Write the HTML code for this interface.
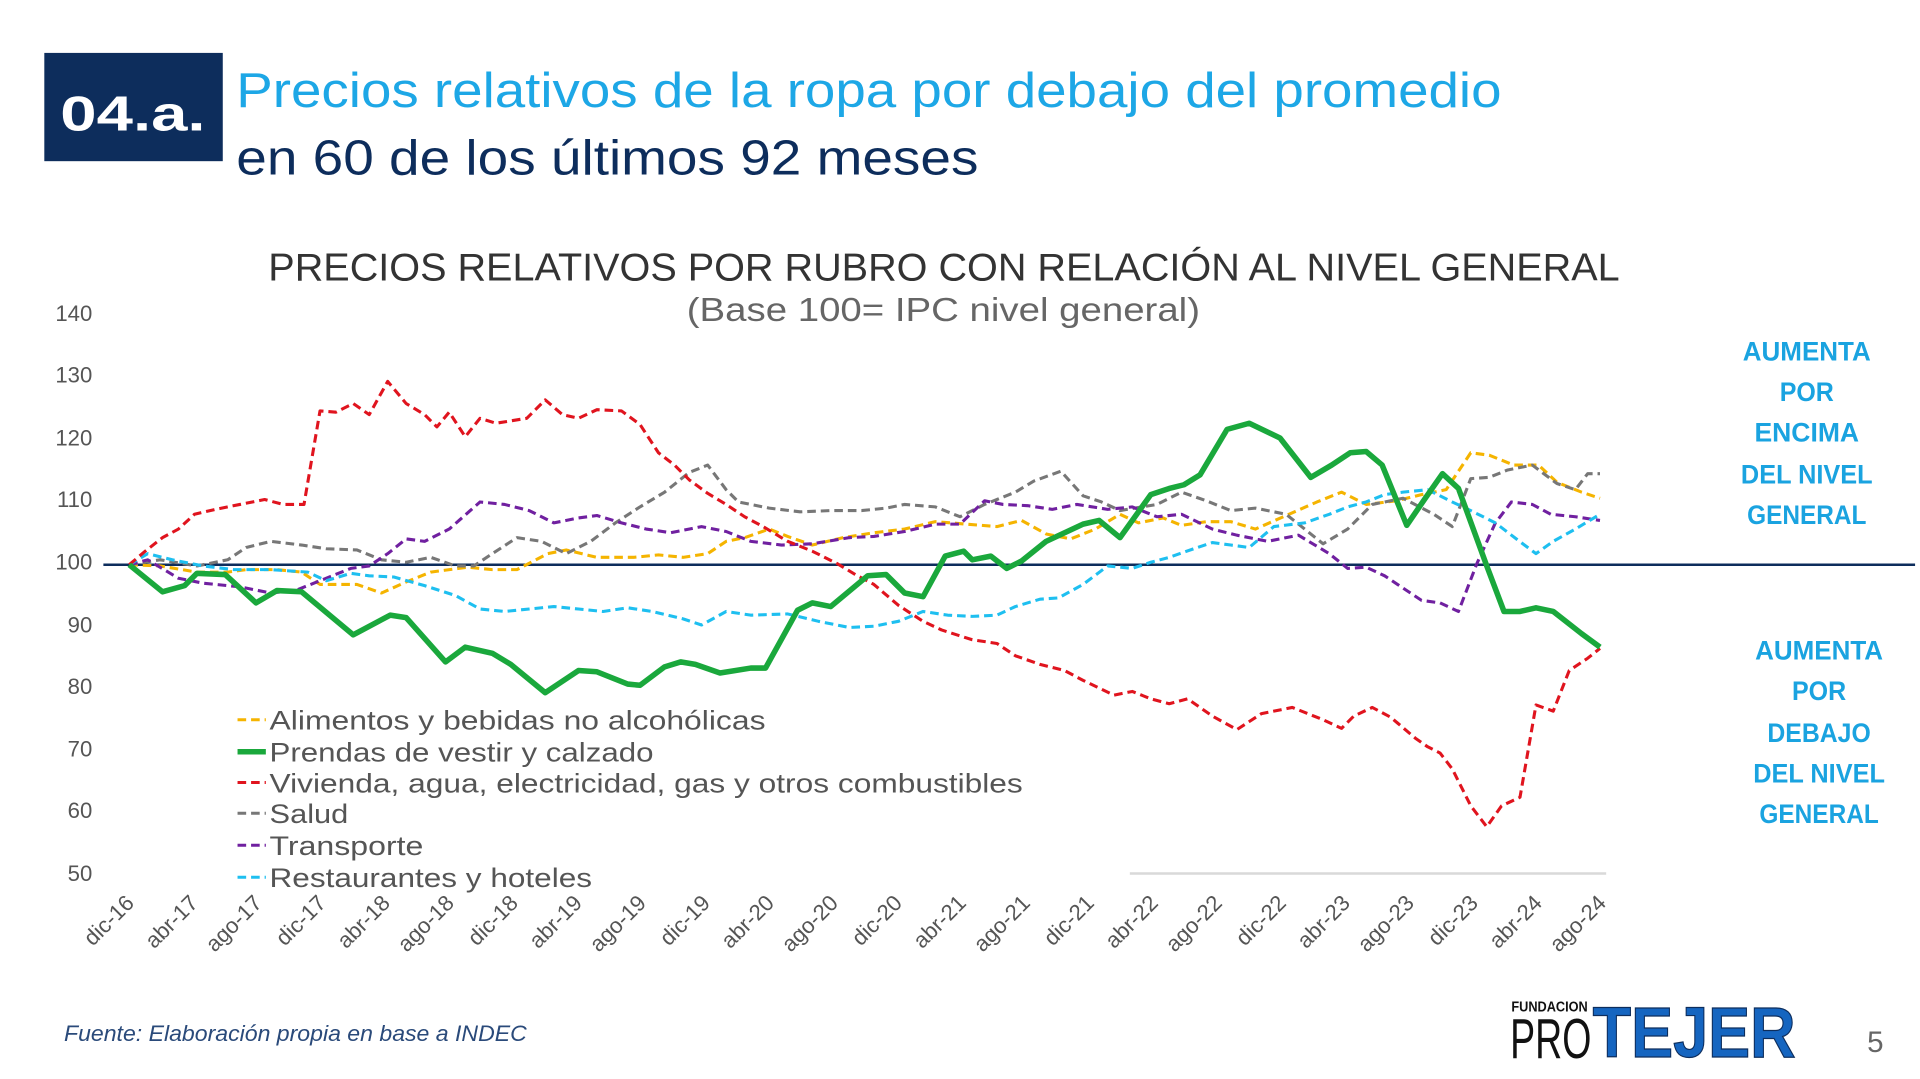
<!DOCTYPE html>
<html><head><meta charset="utf-8"><style>
html,body{margin:0;padding:0;background:#fff;width:1920px;height:1079px;overflow:hidden}
svg{display:block}
text{font-family:"Liberation Sans",sans-serif}
</style></head><body>
<svg width="1920" height="1079" viewBox="0 0 1560 877" preserveAspectRatio="none">
<rect x="36" y="43" width="145" height="88" fill="#0d2d5c"/>
<text x="49" y="106" font-size="40" font-weight="bold" fill="#fff" textLength="118" lengthAdjust="spacingAndGlyphs">04.a.</text>
<text x="192" y="87" font-size="40" fill="#1da7e6" textLength="1028" lengthAdjust="spacingAndGlyphs">Precios relativos de la ropa por debajo del promedio</text>
<text x="192" y="142" font-size="40" fill="#0d2d5c" textLength="603" lengthAdjust="spacingAndGlyphs">en 60 de los últimos 92 meses</text>
<text x="218" y="228" font-size="32" fill="#333" textLength="1098" lengthAdjust="spacingAndGlyphs">PRECIOS RELATIVOS POR RUBRO CON RELACIÓN AL NIVEL GENERAL</text>
<text x="558" y="261" font-size="27" fill="#666" textLength="417" lengthAdjust="spacingAndGlyphs">(Base 100= IPC nivel general)</text>
<g font-size="18" fill="#555" text-anchor="end">
<text x="75" y="261">140</text><text x="75" y="311">130</text><text x="75" y="362">120</text><text x="75" y="412">110</text><text x="75" y="463">100</text><text x="75" y="514">90</text><text x="75" y="564">80</text><text x="75" y="615">70</text><text x="75" y="665">60</text><text x="75" y="716">50</text>
</g>
<line x1="918" y1="710" x2="1305" y2="710" stroke="#d9d9d9" stroke-width="2"/>
<line x1="84" y1="459" x2="1556" y2="459" stroke="#0d2d5c" stroke-width="2"/>
<g font-size="18" fill="#555" text-anchor="end">
<text transform="translate(110,735) rotate(-45)">dic-16</text>
<text transform="translate(162,735) rotate(-45)">abr-17</text>
<text transform="translate(214,735) rotate(-45)">ago-17</text>
<text transform="translate(266,735) rotate(-45)">dic-17</text>
<text transform="translate(318,735) rotate(-45)">abr-18</text>
<text transform="translate(370,735) rotate(-45)">ago-18</text>
<text transform="translate(422,735) rotate(-45)">dic-18</text>
<text transform="translate(474,735) rotate(-45)">abr-19</text>
<text transform="translate(526,735) rotate(-45)">ago-19</text>
<text transform="translate(578,735) rotate(-45)">dic-19</text>
<text transform="translate(630,735) rotate(-45)">abr-20</text>
<text transform="translate(682,735) rotate(-45)">ago-20</text>
<text transform="translate(734,735) rotate(-45)">dic-20</text>
<text transform="translate(786,735) rotate(-45)">abr-21</text>
<text transform="translate(838,735) rotate(-45)">ago-21</text>
<text transform="translate(890,735) rotate(-45)">dic-21</text>
<text transform="translate(942,735) rotate(-45)">abr-22</text>
<text transform="translate(994,735) rotate(-45)">ago-22</text>
<text transform="translate(1046,735) rotate(-45)">dic-22</text>
<text transform="translate(1098,735) rotate(-45)">abr-23</text>
<text transform="translate(1150,735) rotate(-45)">ago-23</text>
<text transform="translate(1202,735) rotate(-45)">dic-23</text>
<text transform="translate(1254,735) rotate(-45)">abr-24</text>
<text transform="translate(1306,735) rotate(-45)">ago-24</text>
</g>
<g fill="none" stroke-width="2.5" stroke-dasharray="7 4" stroke-linejoin="round">
<polyline stroke="#f5b400" points="105,459 130,460 160,465 185,465 200,463 225,463 245,465 260,475 290,475 310,482 330,473 350,465 380,461 400,463 420,463 445,450 460,447 485,453 515,453 535,451 555,453 575,450 590,440 605,437 625,430 640,436 660,443 685,437 710,433 735,430 760,424 785,426 810,428 830,423 850,434 870,438 890,430 910,418 925,425 945,421 960,427 980,424 1000,424 1020,430 1045,419 1070,408 1090,400 1110,410 1135,407 1155,402 1175,398 1195,368 1210,370 1230,378 1250,378 1265,392 1285,400 1300,405"/>
<polyline stroke="#777" points="105,459 130,455 160,460 185,455 200,445 220,440 245,443 265,446 290,447 310,455 330,457 350,453 370,460 385,460 400,450 420,437 440,440 460,450 480,440 500,425 520,412 540,400 560,384 575,378 590,398 600,408 625,413 650,416 675,415 700,415 720,413 735,410 760,412 780,420 800,410 825,400 840,391 862,383 880,403 895,408 910,415 940,410 960,400 980,407 1000,415 1020,413 1045,418 1075,442 1095,430 1115,410 1140,405 1165,418 1180,428 1195,389 1210,388 1225,382 1245,378 1265,393 1280,398 1290,385 1300,385"/>
<polyline stroke="#7020a0" points="105,459 120,455 145,470 165,474 195,477 220,482 240,480 260,472 285,462 300,460 315,450 330,438 345,440 365,430 390,408 410,410 430,415 450,425 470,421 485,419 505,425 525,430 545,433 570,428 590,432 610,440 635,443 660,442 690,437 710,436 735,432 760,426 780,426 800,407 815,410 835,411 855,414 875,410 900,414 920,412 940,420 960,418 985,430 1005,435 1030,440 1055,435 1080,450 1095,462 1110,461 1125,468 1140,478 1155,488 1170,490 1185,497 1200,458 1215,425 1228,408 1245,410 1260,418 1280,420 1300,423"/>
<polyline stroke="#1ebff0" points="105,459 120,450 140,455 165,460 190,463 220,463 250,465 265,472 285,466 300,468 320,469 345,476 370,484 390,495 410,497 430,495 450,493 470,495 490,497 510,494 530,497 555,503 570,508 590,497 610,500 640,499 665,505 690,510 710,509 730,505 750,497 770,500 790,501 810,500 825,493 845,487 860,486 880,475 900,460 920,462 935,457 950,453 970,446 985,441 1000,443 1015,445 1035,428 1060,425 1080,418 1095,412 1110,408 1125,402 1140,400 1160,398 1180,408 1195,415 1215,425 1232,438 1248,450 1262,440 1280,430 1300,418"/>
<polyline stroke="#e0141e" points="105,459 118,448 132,437 145,430 158,418 175,414 195,410 215,406 230,410 247,410 260,334 273,335 287,328 300,337 315,310 330,328 345,337 355,347 365,335 378,355 390,340 403,344 428,340 443,325 457,337 470,340 485,333 505,334 520,345 535,368 548,378 560,390 575,401 590,410 605,420 620,428 640,440 660,448 680,458 695,467 710,475 730,492 750,505 765,512 790,520 810,523 825,533 845,540 865,545 880,553 905,565 920,562 935,568 950,572 965,568 985,582 1005,593 1025,580 1035,578 1050,575 1075,585 1090,592 1100,582 1115,575 1130,583 1150,600 1160,607 1170,612 1180,625 1195,655 1208,672 1220,655 1235,648 1248,573 1262,578 1275,545 1290,535 1300,527"/>
</g>
<polyline fill="none" stroke="#1aa83c" stroke-width="4.5" stroke-linejoin="round" points="105,459 132,481 150,476 160,466 183,467 208,490 225,480 245,481 287,516 317,500 330,502 362,538 378,526 400,531 415,540 443,563 470,545 485,546 510,556 520,557 540,542 553,538 565,540 585,547 610,543 622,543 648,496 660,490 675,493 705,468 720,467 735,482 750,485 768,452 783,448 790,455 805,452 818,462 830,456 850,440 880,426 893,423 910,437 935,402 950,397 962,394 975,386 997,349 1015,344 1040,356 1065,388 1082,378 1097,368 1110,367 1123,378 1143,427 1158,405 1172,385 1185,397 1208,460 1222,497 1235,497 1248,494 1262,497 1285,515 1300,526"/>
<g font-size="22" fill="#555">
<line x1="193" y1="585" x2="216" y2="585" stroke="#f5b400" stroke-width="2.5" stroke-dasharray="7 4"/>
<text x="219" y="593" textLength="403" lengthAdjust="spacingAndGlyphs">Alimentos y bebidas no alcohólicas</text>
<line x1="193" y1="611" x2="216" y2="611" stroke="#1aa83c" stroke-width="4.5"/>
<text x="219" y="619" textLength="312" lengthAdjust="spacingAndGlyphs">Prendas de vestir y calzado</text>
<line x1="193" y1="636" x2="216" y2="636" stroke="#e0141e" stroke-width="2.5" stroke-dasharray="7 4"/>
<text x="219" y="644" textLength="612" lengthAdjust="spacingAndGlyphs">Vivienda, agua, electricidad, gas y otros combustibles</text>
<line x1="193" y1="661" x2="216" y2="661" stroke="#777" stroke-width="2.5" stroke-dasharray="7 4"/>
<text x="219" y="669" textLength="64" lengthAdjust="spacingAndGlyphs">Salud</text>
<line x1="193" y1="687" x2="216" y2="687" stroke="#7020a0" stroke-width="2.5" stroke-dasharray="7 4"/>
<text x="219" y="695" textLength="125" lengthAdjust="spacingAndGlyphs">Transporte</text>
<line x1="193" y1="713" x2="216" y2="713" stroke="#1ebff0" stroke-width="2.5" stroke-dasharray="7 4"/>
<text x="219" y="721" textLength="262" lengthAdjust="spacingAndGlyphs">Restaurantes y hoteles</text>
</g>
<g font-size="22" font-weight="bold" fill="#1aa3e0" text-anchor="middle">
<text x="1468" y="293" textLength="104" lengthAdjust="spacingAndGlyphs">AUMENTA</text>
<text x="1468" y="326" textLength="44" lengthAdjust="spacingAndGlyphs">POR</text>
<text x="1468" y="359" textLength="85" lengthAdjust="spacingAndGlyphs">ENCIMA</text>
<text x="1468" y="393" textLength="107" lengthAdjust="spacingAndGlyphs">DEL NIVEL</text>
<text x="1468" y="426" textLength="97" lengthAdjust="spacingAndGlyphs">GENERAL</text>
<text x="1478" y="536" textLength="104" lengthAdjust="spacingAndGlyphs">AUMENTA</text>
<text x="1478" y="569" textLength="44" lengthAdjust="spacingAndGlyphs">POR</text>
<text x="1478" y="603" textLength="84" lengthAdjust="spacingAndGlyphs">DEBAJO</text>
<text x="1478" y="636" textLength="107" lengthAdjust="spacingAndGlyphs">DEL NIVEL</text>
<text x="1478" y="669" textLength="97" lengthAdjust="spacingAndGlyphs">GENERAL</text>
</g>
<text x="52" y="846" font-size="18" font-style="italic" fill="#2a4a7a" textLength="376" lengthAdjust="spacingAndGlyphs">Fuente: Elaboración propia en base a INDEC</text>
<text x="1228" y="822" font-size="12" font-weight="bold" fill="#111" textLength="62" lengthAdjust="spacingAndGlyphs">FUNDACION</text>
<text x="1227" y="860" font-size="46" fill="#111" textLength="66" lengthAdjust="spacingAndGlyphs">PRO</text>
<text x="1294" y="859" font-size="58" font-weight="bold" fill="#1565c0" stroke="#0d2d5c" stroke-width="1" textLength="165" lengthAdjust="spacingAndGlyphs">TEJER</text>
<text x="1517" y="855" font-size="24" fill="#666">5</text>
</svg>
</body></html>
